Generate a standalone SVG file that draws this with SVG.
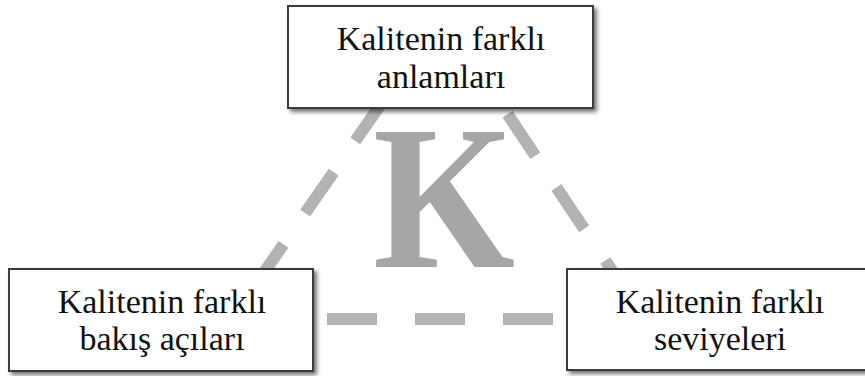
<svg xmlns="http://www.w3.org/2000/svg" width="865" height="376" viewBox="0 0 865 376">
<style>
.box{fill:#fff;stroke:#3a3a3a;stroke-width:2;filter:url(#sh)}
.lbl{font-family:"Liberation Serif","Times New Roman",serif;font-size:34px;fill:#111;text-anchor:middle}
.dash{fill:none;stroke:#b3b3b3;stroke-width:12;stroke-dasharray:50 38}
</style>
<defs>
<filter id="sh" x="-10%" y="-10%" width="120%" height="130%">
<feDropShadow dx="3" dy="3" stdDeviation="2" flood-color="#000" flood-opacity="0.55"/>
</filter>
</defs>
<rect width="865" height="376" fill="#fff"/>
<g id="connectors">
<line class="dash" x1="442" y1="16" x2="231" y2="320" stroke-dashoffset="74"/>
<line class="dash" x1="442" y1="16" x2="645" y2="320" stroke-dashoffset="58"/>
<line class="dash" x1="239" y1="319" x2="645" y2="319"/>
</g>
<text x="444" y="267" font-family="Liberation Serif,serif" font-weight="bold" font-size="205" fill="#a6a6a6" text-anchor="middle" textLength="142" lengthAdjust="spacingAndGlyphs">K</text>
<g id="node-top">
<rect class="box" x="288" y="6" width="305" height="102"/>
<text class="lbl" x="441" y="50">Kalitenin farklı</text>
<text class="lbl" x="441" y="88">anlamları</text>
</g>
<g id="node-left">
<rect class="box" x="9" y="269" width="304" height="102"/>
<text class="lbl" x="162" y="313">Kalitenin farklı</text>
<text class="lbl" x="162" y="350">bakış açıları</text>
</g>
<g id="node-right">
<rect class="box" x="567" y="269" width="310" height="101"/>
<text class="lbl" x="720" y="313">Kalitenin farklı</text>
<text class="lbl" x="720" y="350">seviyeleri</text>
</g>
</svg>
